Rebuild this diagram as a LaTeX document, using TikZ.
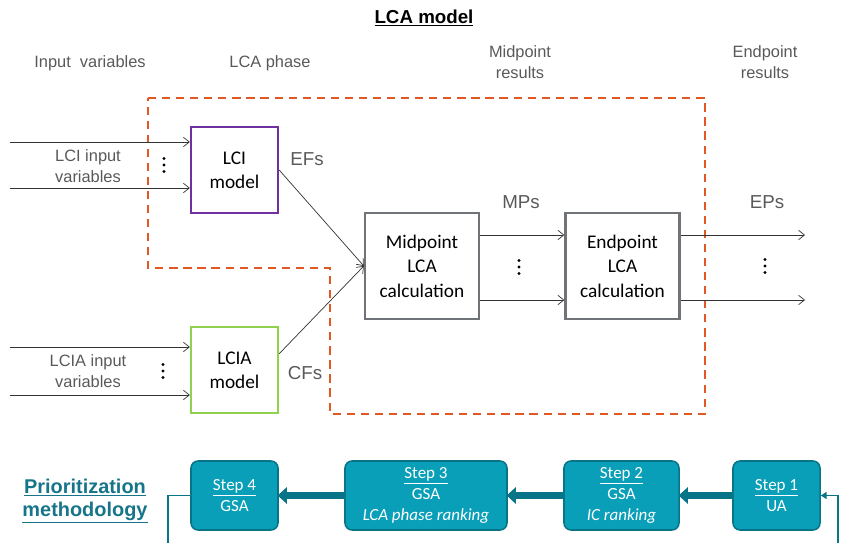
\documentclass[tikz,border=0pt]{standalone}
\usepackage{fontspec}
\setmainfont{Liberation Sans}
\newfontfamily\calibri{Carlito}
\usepackage{tikz}
\usetikzlibrary{arrows.meta,positioning}
\definecolor{grisTexte}{RGB}{89,89,89}
\definecolor{grisBoite}{RGB}{112,116,120}
\definecolor{orangeLCA}{RGB}{226,88,34}
\definecolor{violetLCI}{RGB}{112,48,160}
\definecolor{vertLCIA}{RGB}{146,208,80}
\definecolor{sarcelle}{RGB}{10,159,184}
\definecolor{sarcelleFonce}{RGB}{8,116,135}
\definecolor{sarcelleTexte}{RGB}{23,117,138}

\begin{document}
\begin{tikzpicture}[x=0.03cm, y=-0.03cm,
  label/.style={text=grisTexte, font=\fontsize{14}{18}\selectfont, align=center},
  flux/.style={text=grisTexte, font=\fontsize{16}{18}\selectfont},
  box/.style={draw=#1, line width=2pt, fill=white, inner sep=0pt, align=center,
    minimum width=2.61cm, minimum height=2.58cm, font=\calibri\fontsize{16.5}{20.8}\selectfont},
  calcbox/.style={box=grisBoite, minimum width=3.42cm, minimum height=3.18cm},
  stepbox/.style={draw=sarcelleFonce, line width=1.3pt, fill=sarcelle, rounded corners=6pt,
    inner sep=0pt, align=center, text=white, minimum height=2.07cm,
    font=\calibri\fontsize{14.5}{18}\selectfont},
  fleche/.style={-{Straight Barb[length=5pt,width=8pt]}, line width=0.6pt, draw=black!80},
  grosse/.style={-{Triangle[length=8pt,width=14pt]}, line width=6.5pt, draw=sarcelleFonce, shorten >=-1pt},
  retour/.style={line width=1.6pt, draw=sarcelleFonce},
  dashbox/.style={draw=orangeLCA, line width=1.8pt, dash pattern=on 7pt off 5pt}]
\useasboundingbox (0,0) rectangle (843,543);

% titles
\node[font=\bfseries\fontsize{16}{18}\selectfont] (titre) at (424,18) {\underline{LCA model}};
\node[label] (hInput) at (90,63) {Input \ variables};
\node[label] (hPhase) at (270,63) {LCA phase};
\node[label] (hMid) at (520,62) {Midpoint\\results};
\node[label] (hEnd) at (765,62) {Endpoint\\results};

% LCA model boundary
\draw[dashbox] (148,98) -- (705,98) -- (705,414) -- (330,414) -- (330,268) -- (148,268) -- cycle;

% boxes
\node[box=violetLCI] (lci) at (234.5,170) {LCI\\model};
\node[box=vertLCIA] (lcia) at (234.5,370) {LCIA\\model};
\node[calcbox] (mid) at (422,266) {Midpoint\\LCA\\calculation};
\node[calcbox] (end) at (622.5,266) {Endpoint\\LCA\\calculation};

% inputs
\coordinate (in1) at (10,142);
\coordinate (in2) at (10,188);
\coordinate (in3) at (10,347);
\coordinate (in4) at (10,395);
\foreach \c in {in1,in2} \draw[fleche] (\c) -- (\c -| lci.west);
\foreach \c in {in3,in4} \draw[fleche] (\c) -- (\c -| lcia.west);
\node[label] (lciIn) at (88,166) {LCI input\\variables};
\node[label] (lciaIn) at (88,371) {LCIA input\\variables};

% flows
\draw[fleche] (lci.east) -- (mid.west);
\draw[fleche] (lcia.20) -- (mid.west);
\node[flux] (efs) at (307,159) {EFs};
\node[flux] (cfs) at (305,373) {CFs};
\coordinate (mpa) at (0,235);
\coordinate (mpb) at (0,300);
\foreach \c in {mpa,mpb} \draw[fleche] (mid.east |- \c) -- (end.west |- \c);
\node[flux] (mps) at (521,202) {MPs};
\coordinate (epa) at (805,235);
\coordinate (epb) at (805,300);
\foreach \c in {epa,epb} \draw[fleche] (end.east |- \c) -- (\c);
\node[flux] (eps) at (767,202) {EPs};

% dots
\foreach \x/\y in {164/165, 163/371, 519/267, 765/266}
  \foreach \d in {-6.5,0,6.5}
    \fill (\x,\y+\d) circle (1.7);

% prioritization methodology
\node[text=sarcelleTexte, font=\bfseries\fontsize{17}{19.5}\selectfont, align=center] (prio) at (85,501)
  {\underline{Prioritization}\\\underline{methodology}};
\node[stepbox, minimum width=2.61cm] (s4) at (234.5,495.5) {\underline{Step 4}\\GSA};
\node[stepbox, minimum width=4.86cm] (s3) at (426,495.5) {\underline{Step 3}\\GSA\\\textit{LCA phase ranking}};
\node[stepbox, minimum width=3.45cm] (s2) at (621.5,495.5) {\underline{Step 2}\\GSA\\\textit{IC ranking}};
\node[stepbox, minimum width=2.61cm] (s1) at (776.5,495.5) {\underline{Step 1}\\UA};
\draw[grosse] (s1) -- (s2);
\draw[grosse] (s2) -- (s3);
\draw[grosse] (s3) -- (s4);
\coordinate (bas1) at (838,543);
\coordinate (bas4) at (168,543);
\draw[retour, -{Triangle[length=5pt,width=6pt]}] (bas1) |- (s1.east);
\draw[retour] (s4.west) -| (bas4);
\end{tikzpicture}
\end{document}
